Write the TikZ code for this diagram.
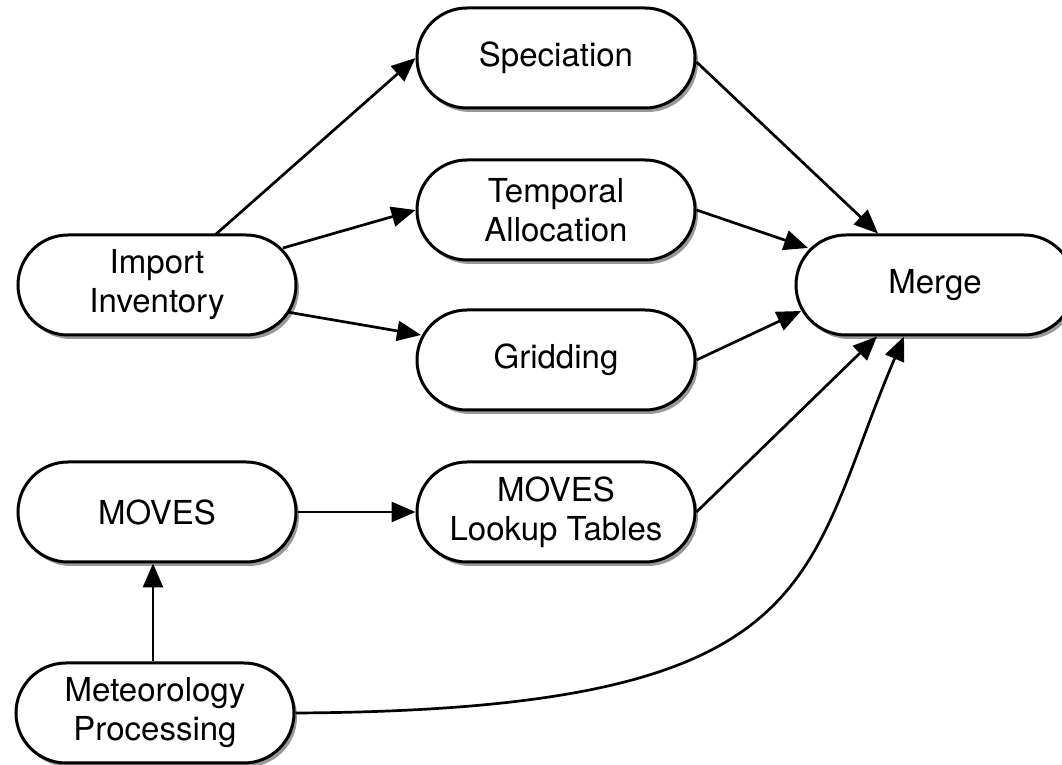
\documentclass[tikz,border=0pt]{standalone}
\usepackage{fontspec}
\setmainfont{TeX Gyre Heros}
\usetikzlibrary{arrows.meta,shadows}
\begin{document}
\begin{tikzpicture}[x=1pt,y=1pt,
  box/.style={draw=black, line width=3pt, fill=white, rounded corners=50pt,
    minimum width=278pt, minimum height=100pt, inner sep=0pt, align=center,
    font=\fontsize{33}{39}\selectfont,
    drop shadow={shadow xshift=3pt, shadow yshift=-4pt, fill=black, opacity=0.4}},
  conn/.style={line width=2.7pt, -{Triangle[length=24pt,width=20pt]}}]
\useasboundingbox (0,0) rectangle (1062,765);
\clip (0,0) rectangle (1062,765);
\node[box] (spec)  at (556,707) {Speciation};
\node[box] (temp)  at (556,555) {Temporal\\Allocation};
\node[box] (imp)   at (157,480) {Import\\Inventory};
\node[box] (merge) at (935,480) {Merge};
\node[box] (grid)  at (556,405) {Gridding};
\node[box] (moves) at (157,253) {MOVES};
\node[box] (mlt)   at (556,253) {MOVES\\Lookup Tables};
\node[box] (met)   at (155,52)  {Meteorology\\Processing};

\draw[conn] ([shift={(58,50)}]imp.center) -- (spec.west);
\draw[conn] ([shift={(126,37)}]imp.center) -- (temp.west);
\draw[conn] ([shift={(130,-27)}]imp.center) -- ([shift={(-135,25)}]grid.center);
\draw[conn] ([yshift=-4]spec.east) -- ([xshift=-57]merge.north);
\draw[conn] (temp.east) -- ([shift={(-127,37)}]merge.center);
\draw[conn] (grid.east) -- ([shift={(-134,-26)}]merge.center);
\draw[conn] (mlt.east) -- ([xshift=-58]merge.south);
\draw[conn] (met.east) .. controls (830,55) and (800,185) .. ([xshift=-31]merge.south);
\draw[conn] (moves.east) -- (mlt.west);
\draw[conn] ([xshift=-2]met.north) -- ([xshift=-2]met.north |- moves.south);
\end{tikzpicture}
\end{document}
